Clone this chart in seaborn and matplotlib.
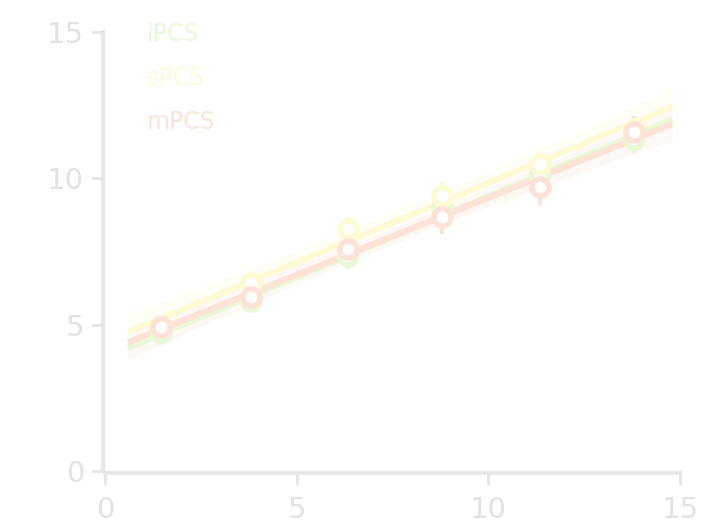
import numpy as np
import matplotlib
matplotlib.use("Agg")
import matplotlib.pyplot as plt
from matplotlib.lines import Line2D
import seaborn as sns

# ---- data ----
x_pos = [1.45, 3.8, 6.35, 8.8, 11.35, 13.8]
series = ["iPCS", "sPCS", "mPCS"]
ipcs_y = [4.72, 5.8, 7.35, 9.0, 10.1, 11.35]
spcs_y = [4.95, 6.42, 8.27, 9.4, 10.49, 11.7]
mpcs_y = [4.92, 5.94, 7.58, 8.68, 9.70, 11.58]
ipcs_err = [0.3, 0.3, 0.45, 0.35, 0.35, 0.5]
spcs_err = [0.3, 0.4, 0.4, 0.5, 0.38, 0.35]
mpcs_err = [0.25, 0.3, 0.6, 0.58, 0.6, 0.55]
fit_x_range = [0.6, 14.8]
x_ticks = [0, 5, 10, 15]
y_ticks = [0, 5, 10, 15]

# ---- style ----
colors = {"iPCS": "#e9f8d8", "sPCS": "#fffad6", "mPCS": "#fde3d7"}
band_colors = {"iPCS": "#fafdf6", "sPCS": "#fffef5", "mPCS": "#fef8f5"}
axis_grey = "#e6e6e6"
text_grey = "#e2e2e2"

sns.set_style("white")
plt.rcParams["font.family"] = ["DejaVu Sans"]

fig = plt.figure(figsize=(7.02, 5.27), dpi=100)
ax = fig.add_axes([105 / 702, 1 - 471 / 527, 575 / 702, 439 / 527])

values = {"iPCS": ipcs_y, "sPCS": spcs_y, "mPCS": mpcs_y}
errors = {"iPCS": ipcs_err, "sPCS": spcs_err, "mPCS": mpcs_err}

xs = np.asarray(x_pos)
grid = np.linspace(fit_x_range[0], fit_x_range[1], 100)
t_crit = 2.776  # t(0.975, df=4)

for name in series:
    ys = np.asarray(values[name])
    slope, intercept = np.polyfit(xs, ys, 1)
    fit = intercept + slope * grid
    resid = ys - (intercept + slope * xs)
    s = np.sqrt(np.sum(resid ** 2) / (len(xs) - 2))
    sxx = np.sum((xs - xs.mean()) ** 2)
    se = s * np.sqrt(1 / len(xs) + (grid - xs.mean()) ** 2 / sxx)
    ax.fill_between(grid, fit - t_crit * se, fit + t_crit * se,
                    color=band_colors[name], lw=0, zorder=1)
    sns.lineplot(x=grid, y=fit, color=colors[name], lw=4.5, ax=ax,
                 zorder=2, solid_capstyle="butt")

for name in series:
    ax.errorbar(x_pos, values[name], yerr=errors[name], fmt="none",
                ecolor=colors[name], elinewidth=3.2, capsize=0, zorder=3)
    ax.plot(x_pos, values[name], linestyle="none", marker="o", ms=12.3,
            mfc="white", mec=colors[name], mew=4.0, zorder=4)

ax.set_xlim(0, 15)
ax.set_ylim(0, 15)
ax.set_xticks(x_ticks)
ax.set_yticks(y_ticks)
ax.set_xlabel("")
ax.set_ylabel("")
for side in ["top", "right"]:
    ax.spines[side].set_visible(False)
for side in ["left", "bottom"]:
    ax.spines[side].set_color(axis_grey)
    ax.spines[side].set_linewidth(2.8)
    ax.spines[side].set_position(("outward", 1.5))
ax.tick_params(axis="y", length=8.5, width=2.2, color=axis_grey, pad=5,
               labelsize=21, labelcolor=text_grey, left=True)
ax.tick_params(axis="x", length=8.5, width=2.2, color=axis_grey, pad=8,
               labelsize=21, labelcolor=text_grey, bottom=True)

handles = [Line2D([], [], alpha=0) for _ in series]
ax.legend(handles, series, loc="upper left", bbox_to_anchor=(0.073, 1.022),
          frameon=False, handlelength=0, handletextpad=0, borderpad=0,
          borderaxespad=0, labelspacing=0.85, fontsize=17,
          labelcolor=[colors[n] for n in series])

fig.savefig("out.png", dpi=100)
